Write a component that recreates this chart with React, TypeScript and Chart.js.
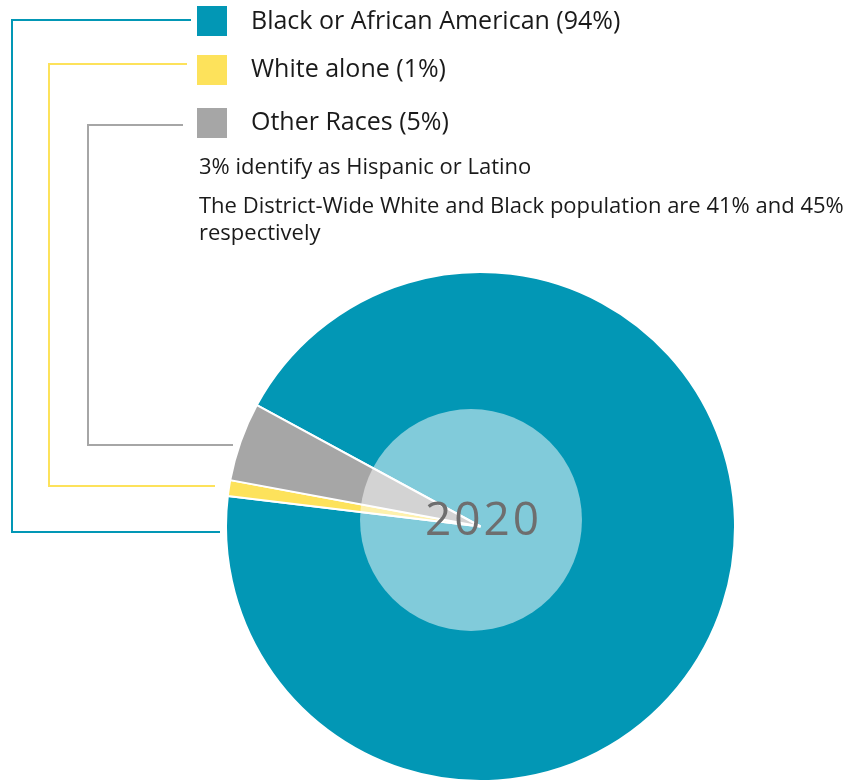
import React, { useEffect, useRef } from "react";
import { Chart, registerables } from "chart.js";

Chart.register(...registerables);

const categories = ["Black or African American", "White alone", "Other Races"];
const shares = [94, 1, 5];
const sliceColors = ["#0297b5", "#fde25b", "#a6a6a6"];
const centerLabel = "2020";
const notes = [
  "3% identify as Hispanic or Latino",
  "The District-Wide White and Black population are 41% and 45%",
  "respectively",
];

const FONT = "'Open Sans', 'Liberation Sans', sans-serif";

// legend / connector layout (styling)
const legendSquareX = 197;
const legendSquareTops = [6, 55, 108];
const legendSquareSize = 30;
const legendTextX = 251;
const legendBaselines = [29, 77, 130];
const connLeftX = [12, 49, 88];
const connTopY = [20, 64, 125];
const connStartX = [191, 187, 183];
const connBottomY = [532, 486, 445];
const connEndX = [220, 215, 233];
const noteX = 199;
const noteBaselines = [174, 213, 240];

const overlayPlugin = {
  id: "overlayAndLegend",
  afterDatasetsDraw(chart: any) {
    const ctx = chart.ctx as CanvasRenderingContext2D;
    const arc = chart.getDatasetMeta(0).data[0] as any;
    const cx = arc.x;
    const cy = arc.y;
    const r = arc.outerRadius;
    ctx.save();
    // light inner disc
    ctx.beginPath();
    ctx.arc(cx - 9.5, cy - 6.5, r * 0.436, 0, Math.PI * 2);
    ctx.fillStyle = "rgba(255,255,255,0.5)";
    ctx.fill();
    // center label
    ctx.fillStyle = "#6e6e6e";
    ctx.font = `46px ${FONT}`;
    (ctx as any).letterSpacing = "3px";
    ctx.textAlign = "center";
    ctx.textBaseline = "alphabetic";
    ctx.fillText(centerLabel, cx + 3, cy + 8);
    (ctx as any).letterSpacing = "0px";
    ctx.restore();
  },
  afterDraw(chart: any) {
    const ctx = chart.ctx as CanvasRenderingContext2D;
    ctx.save();
    categories.forEach((cat, i) => {
      // connector
      ctx.beginPath();
      ctx.moveTo(connStartX[i], connTopY[i]);
      ctx.lineTo(connLeftX[i], connTopY[i]);
      ctx.lineTo(connLeftX[i], connBottomY[i]);
      ctx.lineTo(connEndX[i], connBottomY[i]);
      ctx.strokeStyle = sliceColors[i];
      ctx.lineWidth = 2;
      ctx.stroke();
      // square
      ctx.fillStyle = sliceColors[i];
      ctx.fillRect(legendSquareX, legendSquareTops[i], legendSquareSize, legendSquareSize);
      // label
      ctx.fillStyle = "#1a1a1a";
      ctx.font = `25px ${FONT}`;
      ctx.textAlign = "left";
      ctx.textBaseline = "alphabetic";
      ctx.fillText(`${cat} (${shares[i]}%)`, legendTextX, legendBaselines[i]);
    });
    ctx.font = `22px ${FONT}`;
    notes.forEach((n, i) => {
      ctx.fillText(n, noteX, noteBaselines[i]);
    });
    ctx.restore();
  },
};

export default function App() {
  const ref = useRef<HTMLCanvasElement | null>(null);
  useEffect(() => {
    if (!ref.current) return;
    const chart = new Chart(ref.current, {
      type: "pie",
      data: {
        labels: categories,
        datasets: [
          {
            data: shares,
            backgroundColor: sliceColors,
            borderColor: "#ffffff",
            borderWidth: 2,
          },
        ],
      },
      options: {
        responsive: false,
        animation: false,
        devicePixelRatio: 1,
        rotation: -61.5,
        layout: { padding: { left: 225, right: 128, top: 271, bottom: 1 } },
        plugins: {
          legend: { display: false },
          tooltip: { enabled: false },
        },
      },
      plugins: [overlayPlugin],
    });
    return () => chart.destroy();
  }, []);
  return (
    <div style={{ position: "absolute", left: 0, top: 0, width: 864, height: 783, background: "#fff" }}>
      <canvas ref={ref} width={864} height={783} />
    </div>
  );
}
